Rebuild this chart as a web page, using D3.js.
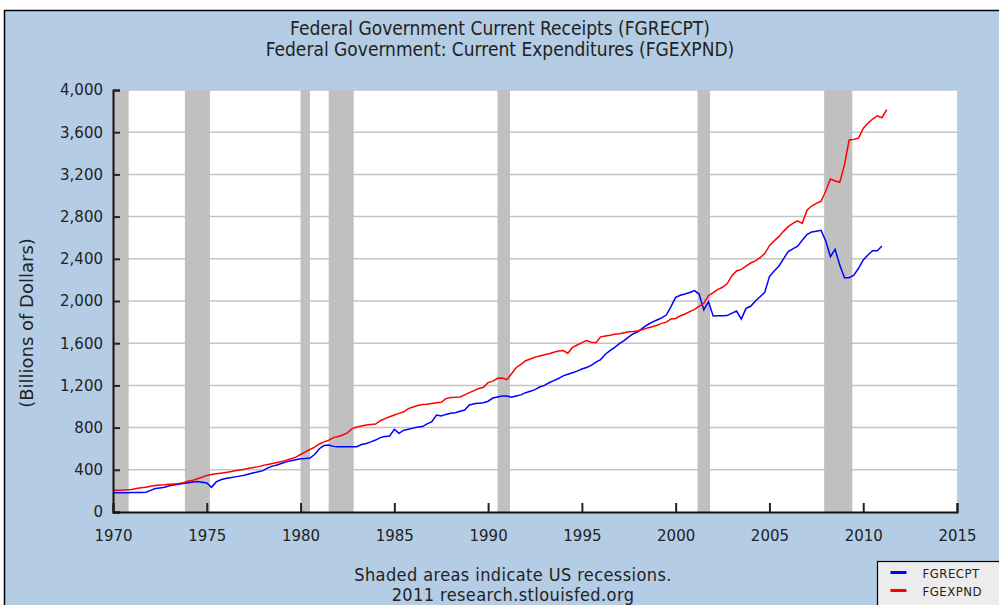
<!DOCTYPE html>
<html>
<head>
<meta charset="utf-8">
<script src="https://cdn.jsdelivr.net/npm/d3@7"></script>
<style>
  body { margin: 0; background: #fff; }
  svg { display: block; }
  text { font-family: "DejaVu Sans", Verdana, sans-serif; fill: #222; }
  .cond { font-family: "DejaVu Sans Condensed", "DejaVu Sans", sans-serif; }
</style>
</head>
<body>
<svg id="chart" width="999" height="605"></svg>
<script>
// quarterly series, first value is 1970 Q1
var startYear = 1970;

var receipts = [
  183, 183, 183, 183,   184, 185, 186, 188,   205, 222, 228, 235,   248, 256, 262, 270,
  278, 285, 290, 282,   275, 234, 285, 305,   318, 325, 333, 340,   348, 360, 372, 382,
  392, 418, 435, 445,   462, 475, 485, 495,   505, 508, 512, 545,   600, 630, 635, 622,
  619, 619, 619, 619,   619, 640, 650, 665,   682, 705, 716, 720,   783, 745, 775, 785,
  795, 805, 810, 835,   856, 919, 910, 925,   935, 941, 955, 967,   1014, 1025, 1030, 1036,
  1050, 1080, 1090, 1100,   1100, 1087, 1100, 1110,   1131, 1145, 1160, 1185,   1200, 1225, 1245, 1265,
  1290, 1305, 1320, 1335,   1355, 1370, 1390, 1420,   1445, 1495, 1530, 1560,   1595, 1625, 1660, 1690,
  1709, 1745, 1775, 1800,   1820, 1840, 1867, 1946,   2035, 2055, 2066, 2080,   2098, 2066, 1915, 1993,
  1858, 1861, 1861, 1862,   1885, 1905, 1829, 1930,   1950, 2000, 2040, 2082,   2231, 2285, 2330, 2400,
  2468, 2495, 2520, 2575,   2630, 2655, 2662, 2670,   2570, 2420, 2490, 2340,   2221, 2221, 2245, 2310,
  2389, 2436, 2477, 2477,   2521
];

var expenditures = [
  205, 207, 208, 210,   213, 222, 230, 234,   245, 252, 256, 258,   262, 266, 270, 278,
  291, 300, 315, 329,   347, 355, 362, 368,   375, 382, 390, 398,   405, 414, 422, 430,
  442, 450, 460, 470,   480, 490, 505, 520,   545, 570, 592, 615,   645, 665, 680, 705,
  715, 730, 750, 790,   805, 815, 825, 830,   834, 865, 885, 903,   920, 935, 950, 980,
  995, 1010, 1018, 1022,   1028, 1035, 1040, 1075,   1085, 1087, 1090, 1110,   1131, 1150, 1170, 1182,
  1226, 1240, 1267, 1270,   1255, 1310, 1370, 1400,   1434, 1450, 1468, 1479,   1490, 1500, 1515, 1526,
  1530, 1505, 1560, 1583,   1605, 1625, 1610, 1605,   1660, 1668, 1675, 1684,   1690, 1700, 1709, 1712,
  1718, 1730, 1745, 1756,   1770, 1788, 1800, 1830,   1835, 1860, 1877, 1900,   1921, 1950, 1978, 2050,
  2080, 2110, 2130, 2165,   2240, 2285, 2300, 2330,   2360, 2380, 2410, 2450,   2525, 2570, 2610, 2660,
  2705, 2735, 2760, 2736,   2860, 2900, 2926, 2945,   3040, 3156, 3137, 3125,   3290, 3526, 3532, 3545,
  3636, 3685, 3725, 3756,   3737, 3815
];

// NBER recessions, peak and trough months
var recessions = [
  [1969, 12, 1970, 11], [1973, 11, 1975, 3], [1980, 1, 1980, 7], [1981, 7, 1982, 11],
  [1990, 7, 1991, 3], [2001, 3, 2001, 11], [2007, 12, 2009, 6]
];

var yTicks = [0, 400, 800, 1200, 1600, 2000, 2400, 2800, 3200, 3600, 4000];
var xTicks = [1970, 1975, 1980, 1985, 1990, 1995, 2000, 2005, 2010, 2015];
var titleLines = ["Federal Government Current Receipts (FGRECPT)",
                  "Federal Government: Current Expenditures (FGEXPND)"];
var footLines = ["Shaded areas indicate US recessions.", "2011 research.stlouisfed.org"];
var yLabel = "(Billions of Dollars)";
var seriesNames = ["FGRECPT", "FGEXPND"];
var seriesColors = ["#0000ff", "#ff0000"];

var svg = d3.select("#chart");
var plotLeft = 113, plotRight = 957, plotTop = 90, plotBottom = 512;

var xScale = d3.scaleLinear().domain([1970, 2015]).range([plotLeft, plotRight]);
var yScale = d3.scaleLinear().domain([0, 4000]).range([plotBottom, plotTop]);

function monthToYear(y, m) { return y + (m - 1) / 12; }

// outer frame
svg.append("rect")
  .attr("x", 4.5).attr("y", 10.5)
  .attr("width", 1000).attr("height", 600)
  .attr("fill", "#b4cde5")
  .attr("stroke", "#000")
  .attr("stroke-width", 1.5);

svg.append("rect")
  .attr("x", plotLeft).attr("y", plotTop)
  .attr("width", plotRight - plotLeft).attr("height", plotBottom - plotTop)
  .attr("fill", "#fff");

// gridlines
svg.append("g")
  .selectAll("line")
  .data(yTicks.slice(1))
  .enter().append("line")
  .attr("x1", plotLeft).attr("x2", plotRight)
  .attr("y1", function(d) { return yScale(d); })
  .attr("y2", function(d) { return yScale(d); })
  .attr("stroke", "#c4c4c4")
  .attr("stroke-width", 1.5);

// recession bands
svg.append("g")
  .selectAll("rect")
  .data(recessions)
  .enter().append("rect")
  .attr("x", function(d) { return Math.max(plotLeft, xScale(monthToYear(d[0], d[1]))); })
  .attr("width", function(d) {
    return xScale(monthToYear(d[2], d[3])) - Math.max(plotLeft, xScale(monthToYear(d[0], d[1])));
  })
  .attr("y", plotTop)
  .attr("height", plotBottom - plotTop)
  .attr("fill", "#c0c0c0");

// series lines
var line = d3.line()
  .x(function(d, i) { return xScale(startYear + i / 4); })
  .y(function(d) { return yScale(d); });

[receipts, expenditures].forEach(function(series, k) {
  svg.append("path")
    .datum(series)
    .attr("d", line)
    .attr("fill", "none")
    .attr("stroke", seriesColors[k])
    .attr("stroke-width", 1.5);
});

// axes
var yAxis = d3.axisLeft(yScale)
  .tickValues(yTicks)
  .tickSize(-7)
  .tickPadding(10)
  .tickFormat(d3.format(","));

var xAxis = d3.axisBottom(xScale)
  .tickValues(xTicks)
  .tickSize(-9)
  .tickPadding(18)
  .tickFormat(d3.format("d"));

var gy = svg.append("g")
  .attr("transform", "translate(" + plotLeft + ",0)")
  .call(yAxis);

var gx = svg.append("g")
  .attr("transform", "translate(0," + plotBottom + ")")
  .call(xAxis);

[gx, gy].forEach(function(g) {
  g.select(".domain").attr("stroke", "#111").attr("stroke-width", 2);
  g.selectAll(".tick line").attr("stroke", "#222").attr("stroke-width", 2);
  g.selectAll(".tick text")
    .style("font-family", "DejaVu Sans, Verdana, sans-serif")
    .style("font-size", "15px")
    .attr("fill", "#222");
});

// titles
svg.append("g")
  .selectAll("text")
  .data(titleLines)
  .enter().append("text")
  .attr("class", "cond")
  .attr("x", 500)
  .attr("y", function(d, i) { return 35 + i * 21; })
  .attr("text-anchor", "middle")
  .style("font-size", "19px")
  .text(function(d) { return d; });

svg.append("text")
  .attr("transform", "translate(33," + 323 + ") rotate(-90)")
  .attr("text-anchor", "middle")
  .style("font-size", "18px")
  .text(yLabel);

svg.append("g")
  .selectAll("text")
  .data(footLines)
  .enter().append("text")
  .attr("class", "cond")
  .attr("x", 513)
  .attr("y", function(d, i) { return 581 + i * 20; })
  .attr("text-anchor", "middle")
  .style("font-size", "18px")
  .style("letter-spacing", "0.4px")
  .text(function(d) { return d; });

// legend
var legend = svg.append("g").attr("transform", "translate(877.5,561.5)");
legend.append("rect")
  .attr("width", 130).attr("height", 60)
  .attr("fill", "#ececec")
  .attr("stroke", "#000")
  .attr("stroke-width", 1.2);

seriesNames.forEach(function(name, i) {
  legend.append("line")
    .attr("x1", 13).attr("x2", 29)
    .attr("y1", 11 + i * 18).attr("y2", 11 + i * 18)
    .attr("stroke", seriesColors[i])
    .attr("stroke-width", 3);
  legend.append("text")
    .attr("class", "cond")
    .attr("x", 45)
    .attr("y", 16 + i * 18)
    .style("font-size", "13px")
    .style("letter-spacing", "0.5px")
    .text(name);
});
</script>
</body>
</html>
